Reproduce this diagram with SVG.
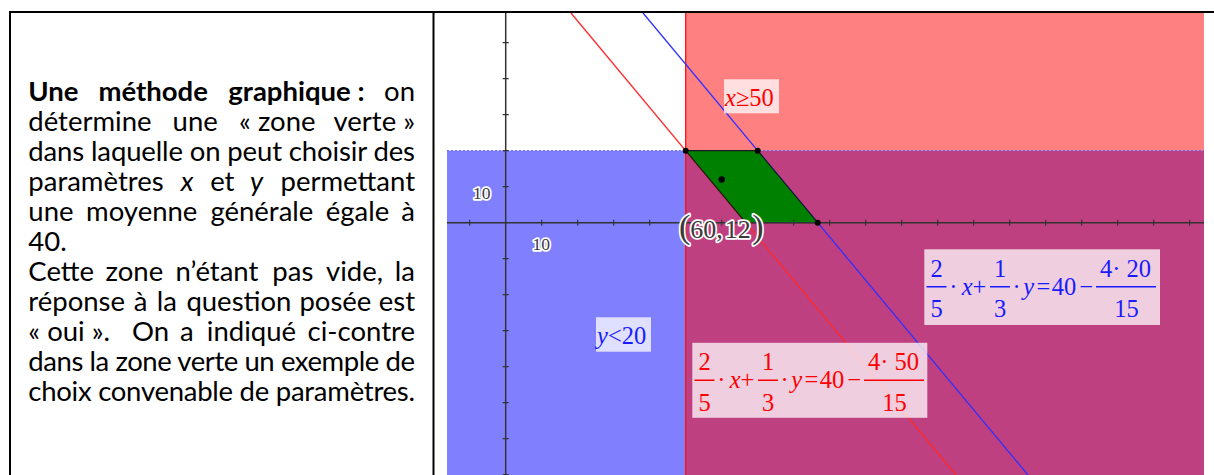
<svg xmlns="http://www.w3.org/2000/svg" width="1214" height="475" viewBox="0 0 1214 475">
<style>
.t{font-family:Lato,"Liberation Sans",sans-serif;font-size:27.5px;fill:#000}
.b{font-weight:bold}
.i{font-style:italic}
.m{font-family:"Liberation Serif","Times New Roman",serif;font-size:24.5px}
.mi{font-style:italic}
.halo{font-family:"Liberation Serif",serif;fill:#3a3a3a;stroke:#fff;stroke-width:3.5;paint-order:stroke;stroke-linejoin:round}
.lbox{fill:#fff;fill-opacity:0.75}
.bar{stroke-width:1.6}
</style>
<rect width="1214" height="475" fill="#fff"/>

<g id="graph-regions">
  <rect x="447" y="150.7" width="757" height="324.3" fill="#8080ff"/>
  <rect x="685.7" y="13" width="518.3" height="137.7" fill="#ff8080"/>
  <rect x="685.7" y="150.7" width="518.3" height="324.3" fill="#bf4080"/>
  <line x1="685.7" y1="13" x2="685.7" y2="475" stroke="#ff1010" stroke-width="1.3"/>
  <line x1="447" y1="150.7" x2="1204" y2="150.7" stroke="#5a5aff" stroke-width="1" stroke-dasharray="2 2"/>
</g>

<g id="connectors">
  <line x1="570.95" y1="13" x2="955.95" y2="475" stroke="#ff2a2a" stroke-width="1.3"/>
  <line x1="643" y1="13" x2="1028" y2="475" stroke="#3030ff" stroke-width="1.3"/>
</g>

<g id="green-zone">
  <polygon points="685.7,150.7 757.7,150.7 817.7,222.7 745.7,222.7" fill="#008000" stroke="#1a1a1a" stroke-width="1.2"/>
</g>

<g id="axes" stroke="#333" fill="none">
  <line x1="505.7" y1="13" x2="505.7" y2="475" stroke-width="1.5"/>
  <line x1="447" y1="222.7" x2="1204" y2="222.7" stroke-width="1.5"/>
  <path stroke-width="1.2" d="M469.7 219.7v6M541.7 219.7v6M577.7 219.7v6M613.7 219.7v6M649.7 219.7v6M685.7 219.7v6M721.7 219.7v6M757.7 219.7v6M793.7 219.7v6M829.7 219.7v6M865.7 219.7v6M901.7 219.7v6M937.7 219.7v6M973.7 219.7v6M1009.7 219.7v6M1045.7 219.7v6M1081.7 219.7v6M1117.7 219.7v6M1153.7 219.7v6M1189.7 219.7v6M502.7 42.7h6M502.7 78.7h6M502.7 114.7h6M502.7 150.7h6M502.7 186.7h6M502.7 258.7h6M502.7 294.7h6M502.7 330.7h6M502.7 366.7h6M502.7 402.7h6M502.7 438.7h6M502.7 474.7h6"/>
</g>

<g id="points" fill="#000">
  <circle cx="685.7" cy="150.7" r="3"/>
  <circle cx="757.7" cy="150.7" r="3"/>
  <circle cx="817.7" cy="222.7" r="3"/>
  <circle cx="721.7" cy="179.5" r="3.2"/>
</g>

<g id="axis-labels">
  <text class="halo" x="473" y="199" font-size="17.5">10</text>
  <text class="halo" x="532.5" y="249.5" font-size="17.5">10</text>
</g>

<g id="label-x50">
  <rect class="lbox" x="724" y="79.3" width="55" height="34"/>
  <text class="m" x="725" y="106" fill="#ff0000" style="font-size:24.5px"><tspan class="mi">x</tspan>≥50</text>
</g>

<g id="label-y20">
  <rect class="lbox" x="596" y="317.3" width="55" height="34.4"/>
  <text class="m" x="597" y="344" fill="#1a1aff" style="font-size:24.5px"><tspan class="mi">y</tspan>&lt;20</text>
</g>

<g id="formula-blue" fill="#1a1aff" stroke="#1a1aff">
  <rect class="lbox" x="924.3" y="249.3" width="235.7" height="75.7" stroke="none"/>
  <g stroke="none">
    <text class="m" x="936.7" y="276.7" text-anchor="middle">2</text>
    <text class="m" x="936.7" y="317.3" text-anchor="middle">5</text>
    <text class="m" x="953.3" y="294.5" text-anchor="middle">·</text>
    <text class="m mi" x="961.7" y="294.5">x</text>
    <text class="m" x="979.5" y="294.5" text-anchor="middle">+</text>
    <text class="m" x="1000" y="276.7" text-anchor="middle">1</text>
    <text class="m" x="1000" y="317.3" text-anchor="middle">3</text>
    <text class="m" x="1016.7" y="294.5" text-anchor="middle">·</text>
    <text class="m mi" x="1023.3" y="294.5">y</text>
    <text class="m" x="1036.5" y="294.5">=</text>
    <text class="m" x="1051.7" y="294.5">40</text>
    <text class="m" x="1079.5" y="294.5">−</text>
    <text class="m" x="1125.5" y="276.7" text-anchor="middle">4· 20</text>
    <text class="m" x="1126.5" y="317.3" text-anchor="middle">15</text>
  </g>
  <path class="bar" d="M926.5 286.7h20M990 286.7h20M1096 286.7h60"/>
</g>

<g id="formula-red" fill="#ff0000" stroke="#ff0000" transform="translate(-232,93.5)">
  <rect class="lbox" x="924.3" y="249.3" width="235" height="75" stroke="none"/>
  <g stroke="none">
    <text class="m" x="936.7" y="276.7" text-anchor="middle">2</text>
    <text class="m" x="936.7" y="317.3" text-anchor="middle">5</text>
    <text class="m" x="953.3" y="294.5" text-anchor="middle">·</text>
    <text class="m mi" x="961.7" y="294.5">x</text>
    <text class="m" x="979.5" y="294.5" text-anchor="middle">+</text>
    <text class="m" x="1000" y="276.7" text-anchor="middle">1</text>
    <text class="m" x="1000" y="317.3" text-anchor="middle">3</text>
    <text class="m" x="1016.7" y="294.5" text-anchor="middle">·</text>
    <text class="m mi" x="1023.3" y="294.5">y</text>
    <text class="m" x="1036.5" y="294.5">=</text>
    <text class="m" x="1051.7" y="294.5">40</text>
    <text class="m" x="1079.5" y="294.5">−</text>
    <text class="m" x="1125.5" y="276.7" text-anchor="middle">4· 50</text>
    <text class="m" x="1126.5" y="317.3" text-anchor="middle">15</text>
  </g>
  <path class="bar" d="M926.5 286.7h20M990 286.7h20M1096 286.7h60"/>
</g>

<g id="label-point">
  <text class="halo" x="679" y="238"><tspan font-size="34">(</tspan><tspan font-size="26">60,</tspan><tspan font-size="26" dx="2">12</tspan><tspan font-size="34" dx="1.5">)</tspan></text>
</g>

<g id="text-block">
  <text class="t" y="101"><tspan class="b" x="28.3">Une</tspan><tspan class="b" x="98.5">méthode</tspan><tspan class="b" x="228.3">graphique :</tspan><tspan x="415" text-anchor="end">on</tspan></text>
  <text class="t" y="131"><tspan x="28.3">détermine</tspan><tspan x="172.6">une</tspan><tspan x="239.1">« zone</tspan><tspan x="415" text-anchor="end">verte »</tspan></text>
  <text class="t" x="28.3" y="161" textLength="386.7" lengthAdjust="spacing">dans laquelle on peut choisir des</text>
  <text class="t" y="191"><tspan x="28.3">paramètres</tspan><tspan class="i" x="180.7">x</tspan><tspan x="210.2">et</tspan><tspan class="i" x="250.1">y</tspan><tspan x="415" text-anchor="end">permettant</tspan></text>
  <text class="t" y="221"><tspan x="28.3">une</tspan><tspan x="86.1">moyenne</tspan><tspan x="210.4">générale</tspan><tspan x="325.7">égale</tspan><tspan x="415" text-anchor="end">à</tspan></text>
  <text class="t" x="28.3" y="251">40.</text>
  <text class="t" y="281"><tspan x="28.3">Cette</tspan><tspan x="105.6">zone</tspan><tspan x="175.5">n’étant</tspan><tspan x="272.3">pas</tspan><tspan x="326">vide,</tspan><tspan x="415" text-anchor="end">la</tspan></text>
  <text class="t" y="311"><tspan x="28.3">réponse</tspan><tspan x="133.8">à</tspan><tspan x="156.8">la</tspan><tspan x="186.4">question</tspan><tspan x="299.4">posée</tspan><tspan x="415" text-anchor="end">est</tspan></text>
  <text class="t" y="341"><tspan x="28.3">« oui ».</tspan><tspan x="132">On</tspan><tspan x="180">a</tspan><tspan x="206.8">indiqué</tspan><tspan x="415" text-anchor="end">ci-contre</tspan></text>
  <text class="t" x="28.3" y="371" textLength="386.7" lengthAdjust="spacing">dans la zone verte un exemple de</text>
  <text class="t" x="28.3" y="401" textLength="386.7" lengthAdjust="spacing">choix convenable de paramètres.</text>
</g>

<g id="table-borders" stroke="#000" stroke-width="2">
  <line x1="9" y1="12" x2="1214" y2="12"/>
  <line x1="10" y1="11" x2="10" y2="475"/>
  <line x1="433.5" y1="11" x2="433.5" y2="475"/>
</g>
</svg>
